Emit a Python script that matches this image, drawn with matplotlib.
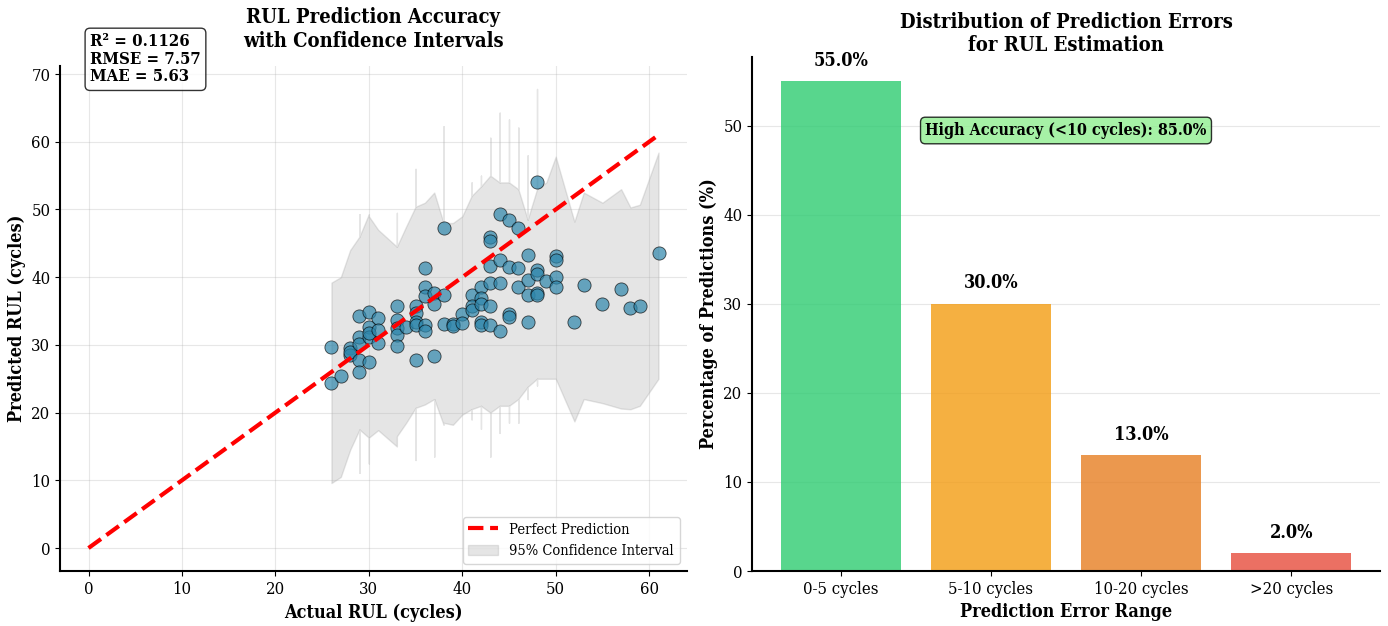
import numpy as np
import matplotlib
matplotlib.use("Agg")
import matplotlib.pyplot as plt

plt.rcParams['font.family'] = 'serif'
plt.rcParams['font.serif'] = ['DejaVu Serif']
plt.rcParams['font.stretch'] = 'condensed'

# scatter data (actual vs predicted RUL)
actual_rul = [26, 26, 27, 28, 28, 28, 29, 29, 29, 29, 29,
              30, 30, 30, 30, 30, 31, 31, 31,
              33, 33, 33, 33, 33, 34, 35, 35, 35, 35, 35,
              36, 36, 36, 36, 36, 37, 37, 37, 38, 38, 38,
              39, 39, 40, 40, 41, 41, 41, 42, 42, 42, 42, 42,
              43, 43, 43, 43, 43, 43, 44, 44, 44, 44,
              45, 45, 45, 45, 46, 46, 46, 47, 47, 47, 47,
              48, 48, 48, 48, 48, 49, 50, 50, 50, 50,
              52, 53, 55, 57, 58, 59, 61]
predicted_rul = [29.7, 24.4, 25.4, 29.6, 28.5, 29.0, 34.2, 31.2, 30.2, 27.8, 26.0,
                 34.8, 32.7, 31.1, 27.5, 31.8, 34.0, 32.2, 30.3,
                 35.7, 33.7, 32.5, 31.5, 29.8, 32.7, 35.7, 34.7, 33.4, 27.8, 33.0,
                 41.4, 38.5, 37.2, 33.0, 32.0, 37.7, 36.0, 28.3, 47.3, 37.4, 33.1,
                 33.1, 32.8, 34.6, 33.3, 37.4, 35.7, 35.2, 38.5, 37.0, 36.0, 33.4, 32.9,
                 46.0, 45.3, 41.7, 39.1, 35.7, 33.0, 49.4, 42.5, 39.2, 32.0,
                 48.4, 41.5, 34.5, 34.1, 47.2, 41.4, 38.5, 43.3, 39.6, 37.3, 33.4,
                 54.1, 41.1, 40.4, 37.7, 37.3, 39.5, 43.2, 42.6, 40.1, 38.6,
                 33.4, 38.8, 36.1, 38.2, 35.4, 35.8, 43.6]

# 95% confidence band, sorted by actual RUL (repeated x give the thin spikes)
ci_x = [26, 27, 28, 29, 29, 29, 30, 30, 30, 31, 33, 33, 33, 34,
        35, 35, 35, 36, 37, 37, 37, 38, 38, 38, 39, 40, 41, 41, 41,
        42, 42, 42, 43, 43, 43, 44, 44, 44, 45, 45, 45, 46, 46, 46,
        47, 47, 47, 48, 48, 48, 49, 50, 52, 53, 55, 57, 58, 59, 61]
ci_lower = [9.6, 10.5, 14.5, 17.5, 11.1, 17.5, 16.3, 12.5, 16.3, 17.4, 15.0, 15.0, 16.5, 18.5,
            20.7, 13.0, 20.7, 21.2, 22.0, 13.5, 22.0, 18.2, 18.2, 18.5, 18.2, 19.7, 20.5, 19.0, 20.5,
            21.0, 17.6, 21.0, 20.0, 13.5, 20.0, 21.0, 17.0, 21.0, 21.0, 18.5, 21.0, 22.0, 18.5, 22.0,
            23.8, 22.0, 23.8, 25.0, 24.0, 25.0, 25.0, 25.0, 18.7, 22.0, 21.4, 20.6, 20.5, 21.0, 25.0]
ci_upper = [39.2, 40.0, 44.0, 46.0, 49.3, 46.0, 49.3, 49.3, 49.0, 47.0, 44.5, 49.5, 44.5, 47.5,
            50.4, 56.0, 50.4, 51.0, 52.5, 52.5, 52.5, 48.0, 62.3, 48.0, 48.0, 49.0, 52.0, 54.0, 52.0,
            53.4, 55.0, 53.4, 55.0, 60.6, 55.0, 54.0, 64.3, 54.0, 54.0, 63.3, 54.0, 53.0, 62.1, 53.0,
            48.5, 58.0, 48.5, 53.0, 67.8, 53.0, 54.0, 57.8, 48.2, 52.5, 51.0, 53.0, 50.3, 50.7, 58.4]

# error distribution
error_ranges = ['0-5 cycles', '5-10 cycles', '10-20 cycles', '>20 cycles']
error_pct = [55.0, 30.0, 13.0, 2.0]
bar_colors = ['#2ecc71', '#f39c12', '#e67e22', '#e74c3c']

r2 = 0.1126
rmse = 7.57
mae = 5.63

fig = plt.figure(figsize=(13.88, 6.26), dpi=100)
W, H = 1388.0, 626.0
ax1 = fig.add_axes([60 / W, 55 / H, 627 / W, 505 / H])
ax2 = fig.add_axes([752 / W, 55 / H, 628 / W, 514 / H])

# ---- left: scatter ----
ax1.fill_between(ci_x, ci_lower, ci_upper, color='gray', alpha=0.2,
                 label='95% Confidence Interval')
ax1.scatter(actual_rul, predicted_rul, s=90, color='#2E86AB', alpha=0.7,
            edgecolors='black', linewidths=0.6, zorder=3)
lim = max(max(actual_rul), max(predicted_rul))
ax1.plot([0, lim], [0, lim], 'r--', lw=3, label='Perfect Prediction', zorder=4)
ax1.set_xlabel('Actual RUL (cycles)', fontsize=13, fontweight='bold')
ax1.set_ylabel('Predicted RUL (cycles)', fontsize=13, fontweight='bold')
ax1.set_title('RUL Prediction Accuracy\nwith Confidence Intervals',
              fontsize=14.5, fontweight='bold', pad=14)
ax1.grid(True, alpha=0.3)
handles, labels = ax1.get_legend_handles_labels()
ax1.legend(handles[::-1], labels[::-1], loc='lower right', fontsize=10.5)
ax1.text(0.048, 1.065, f'R² = {r2:.4f}\nRMSE = {rmse:.2f}\nMAE = {mae:.2f}',
         transform=ax1.transAxes, fontsize=12, fontweight='bold', va='top',
         linespacing=1.05,
         bbox=dict(boxstyle='round', facecolor='white', alpha=0.8))

# ---- right: bar chart ----
bars = ax2.bar(error_ranges, error_pct, color=bar_colors, alpha=0.8, width=0.8)
for b, v in zip(bars, error_pct):
    ax2.text(b.get_x() + b.get_width() / 2, v + 1.3, f'{v:.1f}%',
             ha='center', va='bottom', fontsize=13, fontweight='bold')
ax2.set_xlabel('Prediction Error Range', fontsize=13, fontweight='bold')
ax2.set_ylabel('Percentage of Predictions (%)', fontsize=13, fontweight='bold')
ax2.set_title('Distribution of Prediction Errors\nfor RUL Estimation',
              fontsize=14.5, fontweight='bold', pad=4)
ax2.grid(True, axis='y', alpha=0.3)
ax2.set_axisbelow(True)
high_acc = error_pct[0] + error_pct[1]
ax2.text(0.5, 0.857, f'High Accuracy (<10 cycles): {high_acc:.1f}%',
         transform=ax2.transAxes, ha='center', va='center', fontsize=11.5,
         fontweight='bold',
         bbox=dict(boxstyle='round', facecolor='lightgreen', alpha=0.8))

for ax in (ax1, ax2):
    ax.spines['top'].set_visible(False)
    ax.spines['right'].set_visible(False)
    ax.spines['left'].set_linewidth(1.5)
    ax.spines['bottom'].set_linewidth(1.5)
    ax.tick_params(labelsize=12)

fig.savefig('out.png', dpi=100)
